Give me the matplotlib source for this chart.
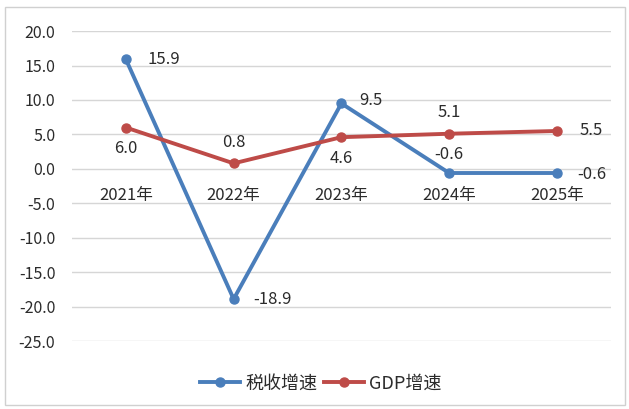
import matplotlib
matplotlib.use("Agg")
import matplotlib.pyplot as plt
from matplotlib.patches import Rectangle

plt.rcParams['font.family'] = ['Noto Sans CJK SC', 'DejaVu Sans']

years = ["2021年", "2022年", "2023年", "2024年", "2025年"]
tax_growth = [15.9, -18.9, 9.5, -0.6, -0.6]
gdp_growth = [6.0, 0.8, 4.6, 5.1, 5.5]
yticks = [20, 15, 10, 5, 0, -5, -10, -15, -20, -25]

blue = "#4A7EBB"
red = "#BE4B48"

fig = plt.figure(figsize=(6.29, 4.09), dpi=100)
fig.patches.append(Rectangle((0.008, 0.01), 0.986, 0.972, transform=fig.transFigure,
                             fill=False, edgecolor="#d0d0d0", linewidth=1.0))
ax = fig.add_axes([0.1145, 0.166, 0.8565, 0.758])

x = list(range(len(years)))
ax.plot(x, tax_growth, color=blue, lw=2.8, marker="o", ms=6.5, zorder=3, label="税收增速")
ax.plot(x, gdp_growth, color=red, lw=2.8, marker="o", ms=6.5, zorder=3, label="GDP增速")

ax.set_xlim(-0.5, len(years) - 0.5)
ax.set_ylim(-25, 20)
ax.set_yticks(yticks)
ax.set_yticklabels([f"{v:.1f}" for v in yticks])
ax.set_xticks([])
for s in ax.spines.values():
    s.set_visible(False)
ax.grid(axis="y", color="#d6d6d6", lw=1.0)
ax.set_axisbelow(True)
ax.tick_params(axis="y", length=0, pad=12, labelsize=11.5, labelcolor="#2b2b2b")

# category labels at zero line
for xi, lab in zip(x, years):
    ax.annotate(lab, (xi, 0), xytext=(0, -19), textcoords="offset points",
                ha="center", va="center", fontsize=12, color="#2b2b2b")

fs = 12
tc = "#2b2b2b"
# tax labels
tax_off = [(27, 0), (28, 0), (21, 2), (0, 13), (25, -1)]
for xi, v, off in zip(x, tax_growth, tax_off):
    ax.annotate(f"{v:.1f}", (xi, v), xytext=off, textcoords="offset points",
                ha="center", va="center", fontsize=fs, color=tc)
gdp_off = [(0, -15), (0, 15), (0, -15), (0, 15), (25, 0)]
for xi, v, off in zip(x, gdp_growth, gdp_off):
    ax.annotate(f"{v:.1f}", (xi, v), xytext=off, textcoords="offset points",
                ha="center", va="center", fontsize=fs, color=tc)

leg = fig.legend(loc="center", bbox_to_anchor=(0.51, 0.063), ncol=2, frameon=False,
                 fontsize=13, handlelength=2.2, columnspacing=0.4, handletextpad=0.3)
for t in leg.get_texts():
    t.set_color("#2b2b2b")

fig.savefig("out.png", dpi=100)
